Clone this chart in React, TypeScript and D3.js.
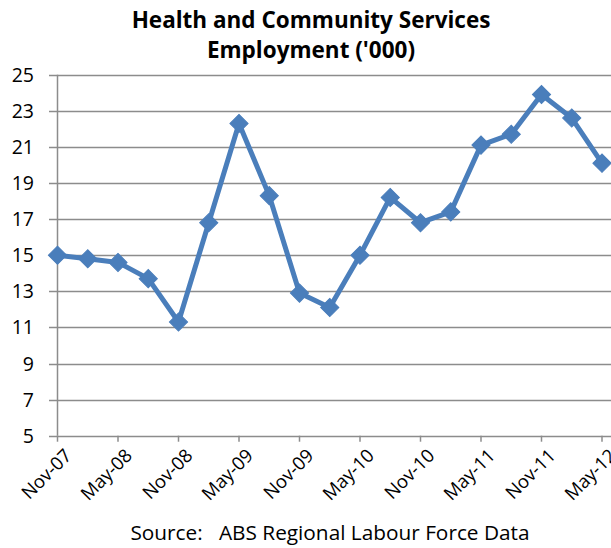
import React from "react";
import * as d3 from "d3";

const categories = ["Nov-07","Feb-08","May-08","Aug-08","Nov-08","Feb-09","May-09","Aug-09","Nov-09","Feb-10","May-10","Aug-10","Nov-10","Feb-11","May-11","Aug-11","Nov-11","Feb-12","May-12"];
const values = [15.0,14.8,14.6,13.7,11.3,16.8,22.3,18.3,12.9,12.1,15.0,18.2,16.8,17.4,21.1,21.7,23.9,22.6,20.1];
const yTicks = [5,7,9,11,13,15,17,19,21,23,25];
const xTickLabels = ["Nov-07","May-08","Nov-08","May-09","Nov-09","May-10","Nov-10","May-11","Nov-11","May-12"];
const titleLines = ["Health and Community Services", "Employment ('000)"];
const sourceText = "Source:   ABS Regional Labour Force Data";

const W = 611, H = 548;
const FONT = "'Open Sans', Lato, sans-serif";

export default function App() {
  const x = d3.scaleLinear().domain([0, categories.length - 1]).range([57.5, 602]);
  const y = d3.scaleLinear().domain([5, 25]).range([435.7, 74.7]);
  const line = d3.line<number>().x((_, i) => x(i)).y(d => y(d));
  const diamond = d3.symbol().type(d3.symbolSquare).size(165)();
  return (
    <svg width={W} height={H} style={{ position: "absolute", left: 0, top: 0, background: "#fff" }}>
      <g fontFamily={FONT} fill="#000">
        {titleLines.map((t, i) => (
          <text key={i} x={311} y={27.5 + i * 30} textAnchor="middle" fontWeight="bold" fontSize={22.5}>{t}</text>
        ))}
      </g>
      {yTicks.map(t => (
        <g key={t}>
          <line x1={49} x2={W} y1={Math.round(y(t)) + 0.5} y2={Math.round(y(t)) + 0.5} stroke="#8c8c8c" strokeWidth={1.5} />
          <text x={34} y={y(t)} dy="0.36em" textAnchor="end" fontFamily={FONT} fontSize={19.5}>{t}</text>
        </g>
      ))}
      <line x1={57.5} x2={57.5} y1={y(25)} y2={y(5)} stroke="#8c8c8c" strokeWidth={1.5} />
      {xTickLabels.map((lab, j) => {
        const xi = x(j * 2);
        return (
          <g key={lab}>
            <line x1={xi} x2={xi} y1={y(5)} y2={y(5) + 6} stroke="#8c8c8c" strokeWidth={1.5} />
            <text transform={`translate(${xi + 6},${y(5) + 12}) rotate(-45)`} textAnchor="end" dy="0.7em" fontFamily={FONT} fontSize={18.5}>{lab}</text>
          </g>
        );
      })}
      <path d={line(values) || ""} fill="none" stroke="#4a7ebb" strokeWidth={5} strokeLinejoin="round" />
      {values.map((v, i) => (
        <path key={i} d={diamond || ""} transform={`translate(${x(i)},${y(v)}) rotate(45)`} fill="#4a7ebb" stroke="#4a7ebb" strokeWidth={1} />
      ))}
      <text x={330} y={540} textAnchor="middle" fontFamily={FONT} fontSize={20.8} style={{ whiteSpace: "pre" }}>{sourceText}</text>
    </svg>
  );
}
